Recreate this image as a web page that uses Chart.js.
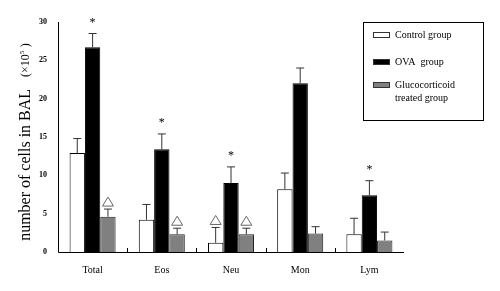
<!DOCTYPE html>
<html>
<head>
<meta charset="utf-8">
<script src="https://cdn.jsdelivr.net/npm/chart.js@4/dist/chart.umd.min.js"></script>
<style>
  html, body { margin: 0; padding: 0; background: #fff; }
  #wrap { width: 500px; height: 291px; }
</style>
</head>
<body>
<div id="wrap"><canvas id="cellChart" width="500" height="291"></canvas></div>
<script>
// Cell counts in BAL (x10^5)
const categories = ['Total', 'Eos', 'Neu', 'Mon', 'Lym'];
const controlValues = [12.9, 4.2, 1.2, 8.2, 2.3];
const controlErrors = [1.9, 2.0, 2.0, 2.1, 2.1];
const ovaValues = [26.7, 13.4, 9.0, 22.0, 7.4];
const ovaErrors = [1.8, 2.0, 2.1, 2.0, 1.9];
const glucoValues = [4.6, 2.3, 2.3, 2.4, 1.5];
const glucoErrors = [1.0, 0.8, 0.8, 0.9, 1.1];
const yTicks = [0, 5, 10, 15, 20, 25, 30];

// significance marks: '*' over OVA, triangles over the others
const ovaStars = [true, true, true, false, true];
const glucoTriangles = [true, true, true, false, false];
const controlTriangles = [false, false, true, false, false];

const serif = '"Liberation Serif", "DejaVu Serif", serif';

// error bars (upward only, with a cap) + marks above them
const errorBarPlugin = {
    id: 'errorBars',
    afterDatasetsDraw(chart) {
        const ctx = chart.ctx;
        const y = chart.scales.y;
        chart.data.datasets.forEach((ds, i) => {
            const meta = chart.getDatasetMeta(i);
            meta.data.forEach((bar, j) => {
                const top = y.getPixelForValue(ds.data[j] + ds.errors[j]);
                ctx.save();
                ctx.strokeStyle = '#333';
                ctx.lineWidth = 1;
                ctx.beginPath();
                ctx.moveTo(bar.x, bar.y);
                ctx.lineTo(bar.x, top);
                ctx.moveTo(bar.x - 4, top);
                ctx.lineTo(bar.x + 4, top);
                ctx.stroke();

                if (ds.stars && ds.stars[j]) {
                    ctx.fillStyle = '#000';
                    ctx.font = '12px ' + serif;
                    ctx.textAlign = 'center';
                    ctx.textBaseline = 'bottom';
                    ctx.fillText('*', bar.x, top - 5);
                }
                if (ds.triangles && ds.triangles[j]) {
                    const cy = top - 7;
                    ctx.strokeStyle = '#666';
                    ctx.fillStyle = '#fff';
                    ctx.beginPath();
                    ctx.moveTo(bar.x, cy - 5);
                    ctx.lineTo(bar.x - 5.5, cy + 4);
                    ctx.lineTo(bar.x + 5.5, cy + 4);
                    ctx.closePath();
                    ctx.fill();
                    ctx.stroke();
                }
                ctx.restore();
            });
        });
    }
};

// axis lines, small ticks between groups, y title, legend box
const decorPlugin = {
    id: 'decor',
    afterDraw(chart) {
        const ctx = chart.ctx;
        const area = chart.chartArea;
        const x = chart.scales.x;
        ctx.save();
        ctx.strokeStyle = '#000';
        ctx.lineWidth = 1;
        ctx.beginPath();
        ctx.moveTo(area.left + 0.5, area.top);
        ctx.lineTo(area.left + 0.5, area.bottom + 0.5);
        ctx.lineTo(area.right, area.bottom + 0.5);
        // separators between categories
        for (let i = 1; i < categories.length; i++) {
            const px = Math.round((x.getPixelForValue(i - 1) + x.getPixelForValue(i)) / 2) + 0.5;
            ctx.moveTo(px, area.bottom);
            ctx.lineTo(px, area.bottom - 4);
        }
        ctx.stroke();

        // y axis title: big text + smaller unit with superscript
        ctx.translate(24, 142);
        ctx.rotate(-Math.PI / 2);
        ctx.fillStyle = '#000';
        ctx.textAlign = 'left';
        ctx.textBaseline = 'alphabetic';
        const main = 'number of cells in BAL';
        ctx.font = '16px ' + serif;
        const w1 = ctx.measureText(main).width;
        ctx.font = '12px ' + serif;
        const wOpen = ctx.measureText('(\u00D710').width;
        const wClose = ctx.measureText(')').width;
        const gap = 12;
        const total = w1 + gap + wOpen + 4 + 3 + wClose;
        let cx = -total / 2;
        ctx.font = '16px ' + serif;
        ctx.fillText(main, cx, 6);
        cx += w1 + gap;
        ctx.font = '12px ' + serif;
        ctx.fillText('(\u00D710', cx, 5);
        cx += wOpen;
        ctx.font = '7px ' + serif;
        ctx.fillText('5', cx, 0);
        cx += 4 + 3;
        ctx.font = '12px ' + serif;
        ctx.fillText(')', cx, 5);
        ctx.restore();

        // legend
        ctx.save();
        ctx.strokeStyle = '#000';
        ctx.lineWidth = 1;
        ctx.strokeRect(363.5, 22.5, 120, 98);
        const rows = [
            { y: 35, fill: '#fff', lines: ['Control group'] },
            { y: 62, fill: '#000', lines: ['OVA  group'] },
            { y: 85, fill: '#808080', lines: ['Glucocorticoid', 'treated group'] }
        ];
        ctx.font = '10px ' + serif;
        ctx.textBaseline = 'middle';
        rows.forEach(r => {
            ctx.fillStyle = r.fill;
            ctx.fillRect(373, r.y - 2.5, 17, 5);
            ctx.strokeStyle = '#333';
            ctx.strokeRect(373.5, r.y - 2.5, 16, 5);
            ctx.fillStyle = '#000';
            r.lines.forEach((t, k) => ctx.fillText(t, 395, r.y + k * 13));
        });
        ctx.restore();
    }
};

const ctx = document.getElementById('cellChart').getContext('2d');
new Chart(ctx, {
    type: 'bar',
    data: {
        labels: categories,
        datasets: [
            {
                label: 'Control group',
                data: controlValues,
                errors: controlErrors,
                triangles: controlTriangles,
                backgroundColor: '#fff',
                borderColor: '#000',
                borderWidth: 1
            },
            {
                label: 'OVA group',
                data: ovaValues,
                errors: ovaErrors,
                stars: ovaStars,
                backgroundColor: '#000',
                borderColor: '#000',
                borderWidth: 1
            },
            {
                label: 'Glucocorticoid treated group',
                data: glucoValues,
                errors: glucoErrors,
                triangles: glucoTriangles,
                backgroundColor: '#808080',
                borderColor: '#222',
                borderWidth: 1
            }
        ]
    },
    options: {
        responsive: false,
        animation: false,
        devicePixelRatio: 1,
        layout: { padding: { left: 0, right: 96, top: 22, bottom: 0 } },
        plugins: {
            legend: { display: false },
            tooltip: { enabled: false }
        },
        datasets: {
            bar: { barPercentage: 1, categoryPercentage: 0.665 }
        },
        scales: {
            x: {
                grid: { display: false, drawTicks: false },
                border: { display: false },
                ticks: {
                    color: '#000',
                    font: { family: serif, size: 10 },
                    padding: 12
                },
                afterFit: s => { s.height = 39; }
            },
            y: {
                min: 0,
                max: 30,
                afterBuildTicks: s => { s.ticks = yTicks.map(v => ({ value: v })); },
                grid: { display: false, drawOnChartArea: false, drawTicks: true, tickLength: 3, color: '#000' },
                border: { display: false },
                ticks: {
                    color: '#000',
                    font: { family: serif, size: 8, weight: 'bold' },
                    padding: 8
                },
                afterFit: s => { s.width = 58; }
            }
        }
    },
    plugins: [errorBarPlugin, decorPlugin]
});
</script>
</body>
</html>
